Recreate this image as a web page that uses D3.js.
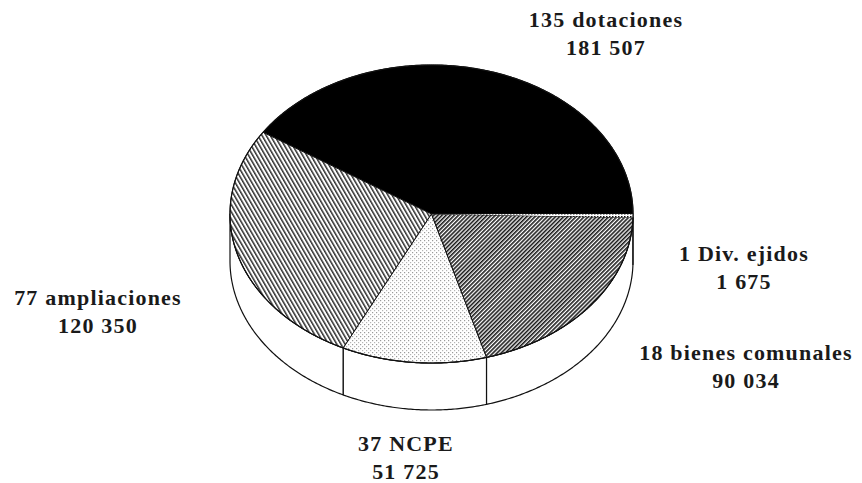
<!DOCTYPE html>
<html>
<head>
<meta charset="utf-8">
<script src="https://cdn.jsdelivr.net/npm/d3@7"></script>
<style>
  body { margin: 0; background: #fff; }
  text { font-family: "Liberation Serif", "Times New Roman", serif; font-weight: bold; fill: #1a1a1a; }
</style>
</head>
<body>
<div id="chart"></div>
<script>
// data, counter-clockwise from 3 o'clock
let categories = ["dotaciones", "ampliaciones", "NCPE", "bienes comunales", "Div. ejidos"];
let counts = [135, 77, 37, 18, 1];
let surfaces = [181507, 120350, 51725, 90034, 1675];
let surfaceLabels = ["181 507", "120 350", "51 725", "90 034", "1 675"];
let fills = ["#000", "url(#hatchA)", "url(#dots)", "url(#hatchB)", "url(#checker)"];

// label anchor (center x, baseline of first line)
let labelPos = [[606, 27], [98, 305], [406, 451], [746, 360], [744, 261]];

let width = 862, height = 483;
let cx = 431.5, cy = 214, rx = 201.5, ry = 149, depth = 47;

let svg = d3.select("#chart").append("svg")
    .attr("width", width)
    .attr("height", height);

let defs = svg.append("defs");

// \\ hatching (ampliaciones)
let pa = defs.append("pattern")
    .attr("id", "hatchA")
    .attr("patternUnits", "userSpaceOnUse")
    .attr("width", 3.6).attr("height", 10)
    .attr("patternTransform", "rotate(-30)");
pa.append("rect").attr("width", 3.6).attr("height", 10).attr("fill", "#fff");
pa.append("rect").attr("width", 1.5).attr("height", 10).attr("fill", "#2e2e2e");

// // hatching (bienes comunales)
let pb = defs.append("pattern")
    .attr("id", "hatchB")
    .attr("patternUnits", "userSpaceOnUse")
    .attr("width", 2.9).attr("height", 10)
    .attr("patternTransform", "rotate(45)");
pb.append("rect").attr("width", 2.9).attr("height", 10).attr("fill", "#fff");
pb.append("rect").attr("width", 1.6).attr("height", 10).attr("fill", "#1a1a1a");

// stipple (NCPE)
let pd = defs.append("pattern")
    .attr("id", "dots")
    .attr("patternUnits", "userSpaceOnUse")
    .attr("width", 4).attr("height", 4);
pd.append("rect").attr("width", 4).attr("height", 4).attr("fill", "#fff");
pd.append("rect").attr("x", 0).attr("y", 0).attr("width", 1.2).attr("height", 1.2).attr("fill", "#9a9a9a");
pd.append("rect").attr("x", 2).attr("y", 2).attr("width", 1.2).attr("height", 1.2).attr("fill", "#b5b5b5");

// checker (Div. ejidos sliver)
let pc = defs.append("pattern")
    .attr("id", "checker")
    .attr("patternUnits", "userSpaceOnUse")
    .attr("width", 3).attr("height", 3);
pc.append("rect").attr("width", 3).attr("height", 3).attr("fill", "#fff");
pc.append("rect").attr("width", 1.5).attr("height", 1.5).attr("fill", "#111");

let pie = d3.pie().sort(null).startAngle(0).endAngle(2 * Math.PI);
let arcs = pie(surfaces);

let px = t => cx + rx * Math.cos(t);
let py = t => cy - ry * Math.sin(t);

function arcPoints(t0, t1, dy) {
    let n = Math.max(2, Math.ceil(Math.abs(t1 - t0) / 0.01));
    return d3.range(n + 1).map(i => {
        let t = t0 + (t1 - t0) * i / n;
        return [px(t), py(t) + dy];
    });
}

let line = d3.line();

// side wall (front half only)
let sideG = svg.append("g");
arcs.forEach(function(d) {
    let t0 = Math.max(d.startAngle, Math.PI);
    let t1 = Math.min(d.endAngle, 2 * Math.PI);
    if (t1 <= t0) return;
    let pts = arcPoints(t0, t1, 0).concat(arcPoints(t1, t0, depth));
    sideG.append("path")
        .attr("d", line(pts) + "Z")
        .attr("fill", "#fff")
        .attr("stroke", "#111")
        .attr("stroke-width", 1.2)
        .attr("stroke-linejoin", "round");
});

// top face
let topG = svg.append("g");
arcs.forEach(function(d, i) {
    let pts = [[cx, cy]].concat(arcPoints(d.startAngle, d.endAngle, 0));
    topG.append("path")
        .attr("d", line(pts) + "Z")
        .attr("fill", fills[i])
        .attr("stroke", i === 4 ? "none" : "#111")
        .attr("stroke-width", i === 4 ? 0 : 1)
        .attr("stroke-linejoin", "round");
});

// outline of top ellipse
topG.append("path")
    .attr("d", line(arcPoints(0, 2 * Math.PI, 0)) + "Z")
    .attr("fill", "none")
    .attr("stroke", "#111")
    .attr("stroke-width", 1.2);

// labels
let lab = svg.append("g");
categories.forEach(function(c, i) {
    let [x, y] = labelPos[i];
    let t = lab.append("text")
        .attr("text-anchor", "middle")
        .attr("font-size", 22)
        .attr("letter-spacing", 1.2);
    t.append("tspan").attr("x", x).attr("y", y).text(counts[i] + " " + c);
    t.append("tspan").attr("x", x).attr("y", y + 28).text(surfaceLabels[i]);
});
</script>
</body>
</html>
